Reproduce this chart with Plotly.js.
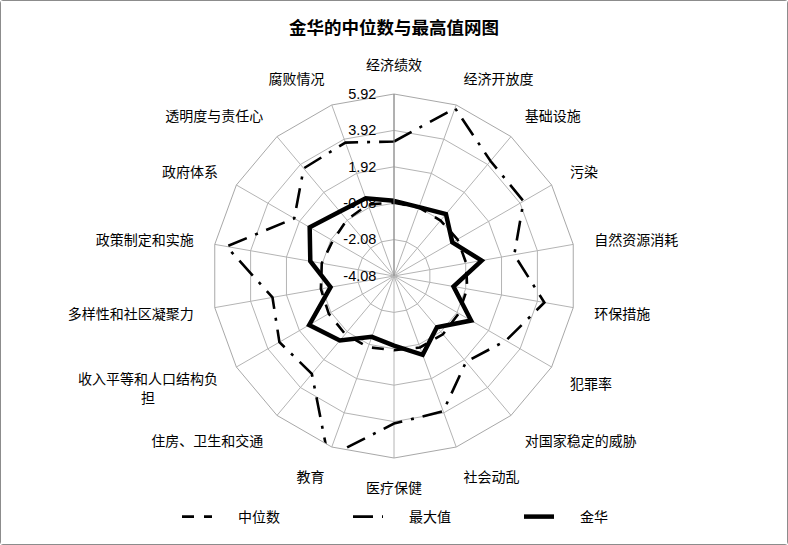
<!DOCTYPE html>
<html>
<head>
<meta charset="utf-8">
<script src="https://cdn.plot.ly/plotly-3.0.1.min.js"></script>
<style>
html,body{margin:0;padding:0;background:#fff;}
#chart{width:786px;height:543px;border:1px solid #8c8c8c;border-radius:3px;}
</style>
</head>
<body>
<div id="chart"></div>
<script>
const categories = ["经济绩效","经济开放度","基础设施","污染","自然资源消耗","环保措施","犯罪率","对国家稳定的威胁","社会动乱","医疗保健","教育","住房、卫生和交通","收入平等和人口结构负<br>担\u3000\u3000\u3000\u3000\u2002","多样性和社区凝聚力","政策制定和实施","政府体系","透明度与责任心","腐败情况"];
const medianValues = [-0.05,-0.08,-0.1,-0.05,-0.05,0.0,0.03,0.1,0.1,0.0,0.08,0.09,0.06,0.0,-0.05,-0.2,-0.05,0.1];
const maxValues = [3.31,5.73,4.17,4.14,2.63,4.31,3.02,2.08,3.83,4.03,6.5,2.94,3.19,2.70,5.26,2.25,3.64,3.72];
const jinhuaValues = [0.05,-0.05,0.36,-0.38,0.81,-0.76,0.81,-0.41,0.53,-0.25,-0.52,0.55,1.30,-0.54,0.59,1.27,0.54,0.46];
const radialTicks = [-4.08,-2.08,-0.08,1.92,3.92,5.92];
const seriesNames = ["中位数","最大值","金华"];

const close = a => a.concat([a[0]]);
const theta = close(categories);
const pad = "\u2003\u2002";

const traces = [
  {type:"scatterpolar", r: close(medianValues), theta: theta, mode:"lines", name: pad + seriesNames[0],
   line:{color:"#000", width:2.6, dash:"12px,10px"}},
  {type:"scatterpolar", r: close(maxValues), theta: theta, mode:"lines", name: pad + seriesNames[1],
   line:{color:"#000", width:2.6, dash:"20px,9px,3px,9px"}},
  {type:"scatterpolar", r: close(jinhuaValues), theta: theta, mode:"lines", name: pad + seriesNames[2],
   line:{color:"#000", width:4.5}}
];

const layout = {
  width:786, height:543,
  margin:{l:0,r:0,t:0,b:0},
  paper_bgcolor:"#fff",
  font:{family:"Noto Sans CJK SC, sans-serif", color:"#000", size:14},
  title:{text:"<b>金华的中位数与最高值网图</b>", x:0.5, xanchor:"center", y:1-27/543, yanchor:"middle", yref:"container",
         font:{size:17.5, family:"Noto Sans CJK SC, sans-serif", color:"#000"}},
  showlegend:true,
  legend:{orientation:"h", x:176/786, xanchor:"left", y:(543-516)/543, yanchor:"middle",
          entrywidth:126, entrywidthmode:"pixels", font:{size:14}},
  polar:{
    domain:{x:[211/786,575/786], y:[86/543,450/543]},
    gridshape:"linear",
    bgcolor:"rgba(0,0,0,0)",
    angularaxis:{type:"category", rotation:90, direction:"clockwise",
      showline:true, linecolor:"#a8a8a8", linewidth:1,
      gridcolor:"#b4b4b4", gridwidth:1,
      ticks:"outside", ticklen:18, tickcolor:"rgba(0,0,0,0)",
      tickfont:{size:14, color:"#000"}},
    radialaxis:{range:[-4.08,5.92], tickvals:radialTicks, ticktext:radialTicks.map(v=>v.toFixed(2)),
      angle:90, side:"counterclockwise", tickangle:90,
      showline:true, linecolor:"#888888", linewidth:1,
      gridcolor:"#b4b4b4", gridwidth:1,
      ticks:"outside", ticklen:12, tickcolor:"rgba(0,0,0,0)",
      tickfont:{size:14.5, color:"#000", family:"Liberation Sans, Arial, sans-serif"}}
  }
};

Plotly.newPlot("chart", traces, layout, {displayModeBar:false});
</script>
</body>
</html>
